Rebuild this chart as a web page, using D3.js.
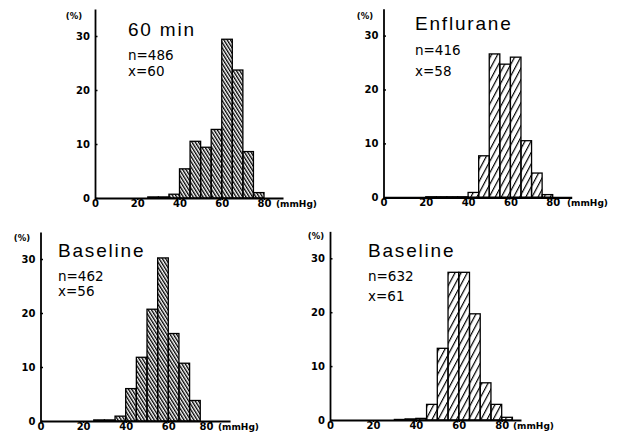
<!DOCTYPE html>
<html>
<head>
<meta charset="utf-8">
<script src="https://cdn.jsdelivr.net/npm/d3@7"></script>
<style>
  body { margin: 0; background: #fff; }
  svg { display: block; }
</style>
</head>
<body>
<svg id="svg" width="618" height="439"></svg>
<script>
// bins are 5 mmHg wide, value = % of readings
var binStarts   = [20, 25, 30, 35, 40, 45, 50, 55, 60, 65, 70, 75, 80, 85];
var min60       = [0, 0.2, 0.2, 0.7, 5.4, 10.5, 9.4, 12.7, 29.4, 23.7, 8.6, 1.0, 0, 0];
var enflurane   = [0.1, 0.1, 0.1, 0.1, 0.9, 7.7, 26.6, 24.7, 26.0, 10.5, 4.5, 0.5, 0, 0];
var baseline462 = [0, 0.2, 0.2, 0.9, 6.0, 11.8, 20.7, 30.2, 16.2, 10.7, 3.8, 0, 0, 0];
var baseline632 = [0, 0, 0.1, 0.2, 0.3, 2.9, 13.3, 27.4, 27.4, 19.7, 6.9, 2.9, 0.5, 0];

var titles     = ["60 min", "Enflurane", "Baseline", "Baseline"];
var nLabels    = ["n=486", "n=416", "n=462", "n=632"];
var meanLabels = ["x=60", "x=58", "x=56", "x=61"];
var xTicks = [0, 20, 40, 60, 80];
var yTicks = [0, 10, 20, 30];

var series = [min60, enflurane, baseline462, baseline632];

// where each panel sits on the page
var layout = [
  {left: 95,    base: 198,   kx: 2.1125, ky: 5.4,  hatch: "hatchBack", tx: 128, ty: [36, 60, 76],    unitX: 276, pct: [74, 19],   lastDx: 0},
  {left: 383.5, base: 197.3, kx: 2.115,  ky: 5.39, hatch: "hatchFwd",  tx: 415, ty: [30, 55, 76],    unitX: 567, pct: [365, 19],  lastDx: 0},
  {left: 40.5,  base: 421,   kx: 2.13,   ky: 5.4,  hatch: "hatchBack", tx: 58,  ty: [257, 281, 296], unitX: 218, pct: [22, 241],  lastDx: -5},
  {left: 330,   base: 420,   kx: 2.146,  ky: 5.39, hatch: "hatchFwd",  tx: 368, ty: [257, 281, 301], unitX: 513, pct: [316, 239], lastDx: 0}
];

var svg = d3.select("#svg");
var defs = svg.append("defs");

// dense "\\\" hatch
defs.append("pattern")
    .attr("id", "hatchBack")
    .attr("patternUnits", "userSpaceOnUse")
    .attr("width", 2.8).attr("height", 10)
    .attr("patternTransform", "rotate(-32)")
  .append("rect")
    .attr("width", 1.35).attr("height", 10).attr("fill", "#000");

// wider "///" hatch
defs.append("pattern")
    .attr("id", "hatchFwd")
    .attr("patternUnits", "userSpaceOnUse")
    .attr("width", 5.4).attr("height", 10)
    .attr("patternTransform", "rotate(28)")
  .append("rect")
    .attr("width", 1.2).attr("height", 10).attr("fill", "#000");

var tickFont = "'DejaVu Sans', sans-serif";
var titleFont = "'Liberation Sans', Arial, sans-serif";

layout.forEach(function(p, i) {
  var x = d3.scaleLinear().domain([0, 89]).range([p.left, p.left + 89 * p.kx]);
  var y = d3.scaleLinear().domain([0, 35]).range([p.base, p.base - 35 * p.ky]);

  var g = svg.append("g");

  // bars
  g.selectAll("rect.bar")
    .data(binStarts.map(function(b, j) { return {b: b, v: series[i][j]}; }).filter(function(d) { return d.v > 0; }))
    .enter().append("rect")
      .attr("class", "bar")
      .attr("x", function(d) { return x(d.b); })
      .attr("width", function(d) { return x(d.b + 5) - x(d.b); })
      .attr("y", function(d) { return y(d.v); })
      .attr("height", function(d) { return y(0) - y(d.v); })
      .attr("fill", "url(#" + p.hatch + ")")
      .attr("stroke", "#000")
      .attr("stroke-width", 1.3);

  // axes
  var xAxis = g.append("g")
      .attr("transform", "translate(0," + p.base + ")")
      .call(d3.axisBottom(x).tickValues(xTicks).tickSize(2).tickPadding(0).tickSizeOuter(0));
  xAxis.select(".domain").attr("stroke-width", 2.2);
  xAxis.selectAll(".tick line").attr("stroke-width", 1.5);
  xAxis.selectAll(".tick text").filter(function(d) { return d === 80; }).attr("dx", p.lastDx);

  var yAxis = g.append("g")
      .attr("transform", "translate(" + p.left + ",0)")
      .call(d3.axisLeft(y).tickValues(yTicks).tickSize(-2.5).tickPadding(5).tickSizeOuter(0));
  yAxis.select(".domain").attr("stroke-width", 1.8);
  yAxis.selectAll(".tick line").attr("stroke-width", 1.5);

  g.selectAll(".tick text")
      .attr("font-family", tickFont)
      .attr("font-weight", "bold")
      .attr("font-size", 10)
      .attr("fill", "#000");

  g.append("text")
      .attr("x", p.unitX).attr("y", p.base + 9)
      .attr("font-family", tickFont).attr("font-weight", "bold").attr("font-size", 9)
      .text("(mmHg)");

  g.append("text")
      .attr("x", p.pct[0]).attr("y", p.pct[1])
      .attr("text-anchor", "middle")
      .attr("font-family", tickFont).attr("font-weight", "bold").attr("font-size", 8.5)
      .text("(%)");

  // labels
  g.append("text")
      .attr("x", p.tx).attr("y", p.ty[0])
      .attr("font-family", titleFont).attr("font-size", 19)
      .attr("letter-spacing", 1.8)
      .text(titles[i]);

  g.append("text")
      .attr("x", p.tx).attr("y", p.ty[1])
      .attr("font-family", tickFont).attr("font-size", 13.5)
      .text(nLabels[i]);

  g.append("text")
      .attr("x", p.tx).attr("y", p.ty[2])
      .attr("font-family", tickFont).attr("font-size", 13.5)
      .text(meanLabels[i]);
});
</script>
</body>
</html>
